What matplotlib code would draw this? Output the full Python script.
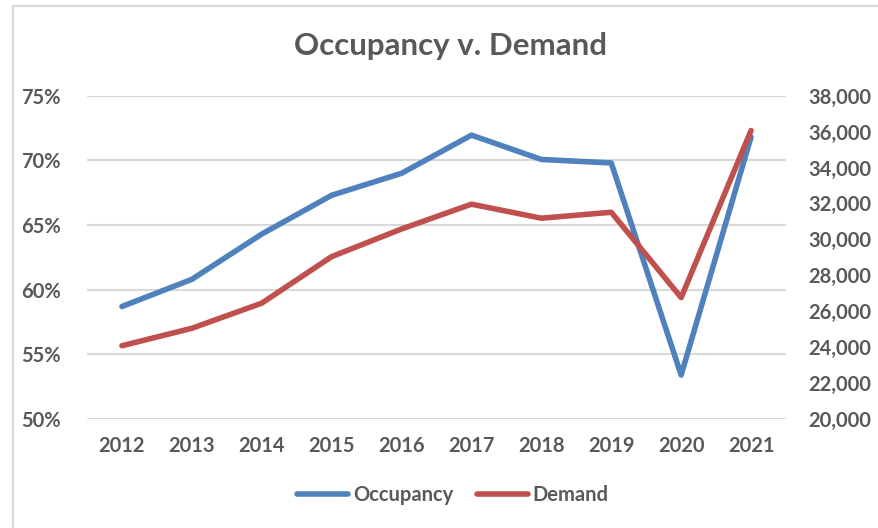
import matplotlib.pyplot as plt
from matplotlib.lines import Line2D
from matplotlib.ticker import FuncFormatter

plt.rcParams["font.family"] = ["Lato", "DejaVu Sans"]

YEARS = [2012, 2013, 2014, 2015, 2016, 2017, 2018, 2019, 2020, 2021]
OCCUPANCY = [58.7, 60.8, 64.3, 67.3, 69.0, 71.95, 70.07, 69.8, 53.4, 71.8]
DEMAND = [24080, 25050, 26450, 29040, 30580, 31960, 31180, 31510, 26760, 36060]

LEFT_TICKS = [50, 55, 60, 65, 70, 75]
RIGHT_TICKS = list(range(20000, 38001, 2000))

BLUE = "#4f81bd"
RED = "#c0504d"
TEXT = "#595959"
GRID = "#d9d9d9"

fig = plt.figure(figsize=(8.79, 5.28), dpi=100)
ax = fig.add_axes([87 / 879, 1 - 419 / 528, (786 - 87) / 879, (419 - 95.7) / 528])
ax2 = ax.twinx()

ax.plot(YEARS, OCCUPANCY, color=BLUE, linewidth=4, solid_capstyle="round",
        solid_joinstyle="round", zorder=3)
ax2.plot(YEARS, DEMAND, color=RED, linewidth=4, solid_capstyle="round",
         solid_joinstyle="round", zorder=3)

ax.set_xlim(2011.5, 2021.5)
ax.set_ylim(50, 75)
ax2.set_ylim(20000, 38000)
ax.set_xticks(YEARS)
ax.set_yticks(LEFT_TICKS)
ax2.set_yticks(RIGHT_TICKS)
ax.yaxis.set_major_formatter(FuncFormatter(lambda v, p: f"{v:.0f}%"))
ax2.yaxis.set_major_formatter(FuncFormatter(lambda v, p: f"{v:,.0f}"))

ax.grid(axis="y", color=GRID, linewidth=1.5, zorder=0)
for a in (ax, ax2):
    for side in a.spines.values():
        side.set_visible(False)
    a.tick_params(length=0, colors=TEXT, labelsize=14.5)
    for lbl in a.get_xticklabels() + a.get_yticklabels():
        lbl.set_fontweight("bold")
ax.tick_params(axis="y", pad=19)
ax2.tick_params(axis="y", pad=16)
ax.tick_params(axis="x", pad=12)
ax2.set_zorder(ax.get_zorder() + 1)
ax2.patch.set_visible(False)

fig.text(451 / 879, 1 - 46 / 528, "Occupancy v. Demand", ha="center", va="center",
         fontsize=22.5, fontweight="bold", color=TEXT)

handles = [Line2D([0], [0], color=BLUE, linewidth=4, solid_capstyle="round"),
           Line2D([0], [0], color=RED, linewidth=4, solid_capstyle="round")]
leg = fig.legend(handles, ["Occupancy", "Demand"], loc="center",
                 bbox_to_anchor=(453 / 879, 1 - 495 / 528), ncol=2, frameon=False,
                 handlelength=2.5, handletextpad=0.25, columnspacing=1.2,
                 prop={"size": 14.5, "weight": "bold"})
for t in leg.get_texts():
    t.set_color(TEXT)

# chart area border (top and left edges visible in the crop)
fig.add_artist(Line2D([13 / 879, 13 / 879], [0, 1 - 6 / 528], color=GRID,
                      linewidth=1.5, transform=fig.transFigure))
fig.add_artist(Line2D([13 / 879, 1], [1 - 6 / 528, 1 - 6 / 528], color=GRID,
                      linewidth=1.5, transform=fig.transFigure))

fig.savefig("out.png", dpi=100)
